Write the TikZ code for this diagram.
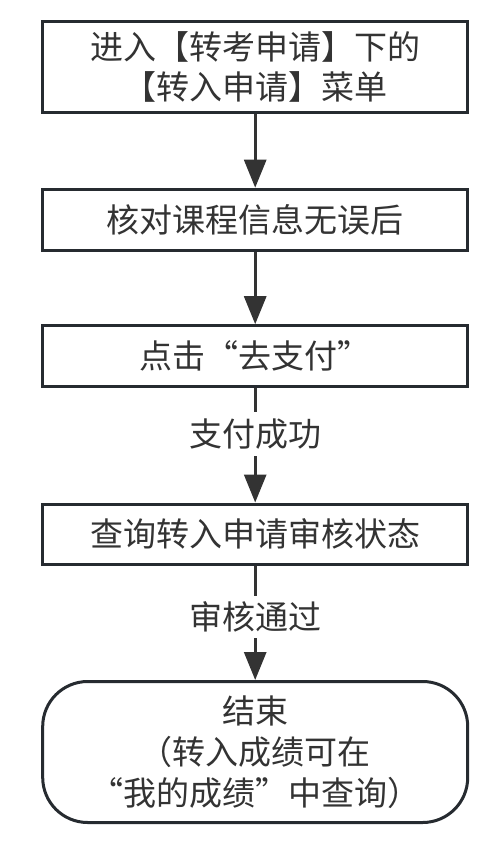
\documentclass[tikz,border=0pt]{standalone}
\usepackage{fontspec}
\newfontfamily\cjk{Noto Sans CJK SC}
\usetikzlibrary{arrows.meta}
\definecolor{edgec}{HTML}{262B30}
\definecolor{txtc}{HTML}{333333}
\definecolor{arrc}{HTML}{333333}
\tikzset{
  stepbox/.style={draw=edgec, line width=3pt, fill=white, minimum width=425pt,
    inner sep=0pt, align=center, text=txtc, font=\cjk\fontsize{33}{40}\selectfont},
  termbox/.style={draw=edgec, line width=3pt, fill=white, minimum width=425pt,
    rounded corners=45pt, inner sep=0pt, align=center, text=txtc,
    font=\cjk\fontsize{33}{41}\selectfont},
  arr/.style={draw=arrc, line width=3pt, -{Triangle[width=22pt,length=28pt]}},
  lbl/.style={fill=white, inner sep=0pt, text=txtc, font=\cjk\fontsize{33}{40}\selectfont}
}
\begin{document}
\begin{tikzpicture}[x=1pt,y=-1pt]
\useasboundingbox (0,0) rectangle (492,843);
\node[stepbox, minimum height=91pt] (b1) at (255.2,67.3) {进入【转考申请】下的\\【转入申请】菜单};
\node[stepbox, minimum height=61pt] (b2) at (255.2,219.7) {核对课程信息无误后};
\node[stepbox, minimum height=61pt] (b3) at (255.2,356.2) {点击“去支付”};
\node[stepbox, minimum height=60pt] (b4) at (255.2,534) {查询转入申请审核状态};
\node[termbox, minimum height=141pt] (t) at (255.2,752) {结束\\（转入成绩可在\\“我的成绩”中查询）};
\draw[arr] (b1) -- (b2);
\draw[arr] (b2) -- (b3);
\draw[arr] (b3) -- node[lbl, pos=0.4, minimum height=44pt] (l1) {支付成功} (b4);
\draw[arr] (b4) -- node[lbl, pos=0.45, minimum height=42pt] (l2) {审核通过} (t);
\end{tikzpicture}
\end{document}
